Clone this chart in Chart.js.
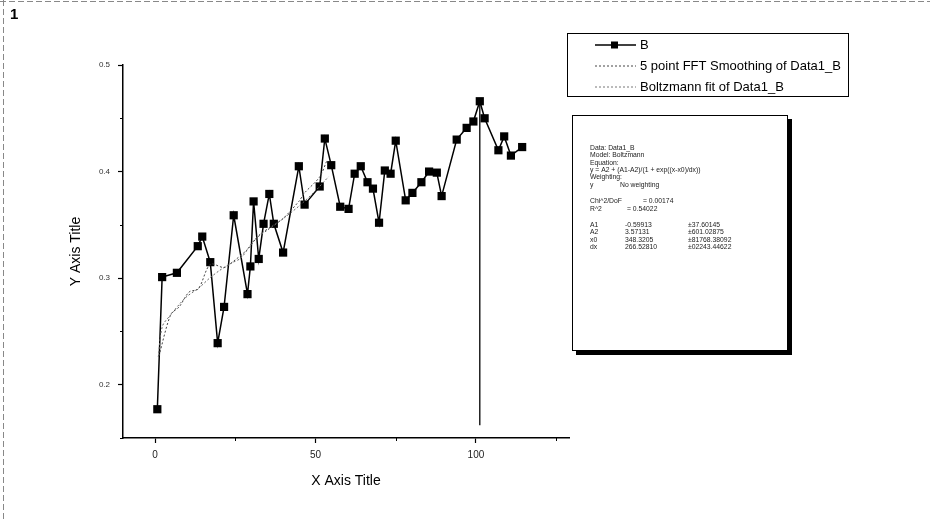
<!DOCTYPE html>
<html>
<head>
<meta charset="utf-8">
<script src="https://cdn.jsdelivr.net/npm/chart.js@4"></script>
<style>
  body { margin: 0; background: #fff; }
  #wrap { position: relative; width: 930px; height: 522px; }
</style>
</head>
<body>
<div id="wrap"><canvas id="plot" width="930" height="522"></canvas></div>
<script>
// data
const bX = [0.7, 2.2, 6.8, 13.3, 14.7, 17.2, 19.5, 21.5, 24.5, 28.8, 29.7, 30.7, 32.3, 33.8, 35.6, 37.0, 39.9, 44.8, 46.6, 51.3,
  52.9, 54.9, 57.7, 60.3, 62.2, 64.1, 66.2, 67.9, 69.8, 71.6, 73.4, 75.0, 78.1, 80.2, 83.0, 85.4, 87.8, 89.3, 94.0, 97.1,
  99.2, 101.2, 102.7, 107.0, 108.8, 110.9, 114.4];
const bY = [0.177, 0.301, 0.305, 0.330, 0.339, 0.315, 0.239, 0.273, 0.359, 0.285, 0.311, 0.372, 0.318, 0.351, 0.379, 0.351, 0.324, 0.405, 0.369, 0.386,
  0.431, 0.406, 0.367, 0.365, 0.398, 0.405, 0.390, 0.384, 0.352, 0.401, 0.398, 0.429, 0.373, 0.380, 0.390, 0.400, 0.399, 0.377, 0.430, 0.441,
  0.447, 0.466, 0.450, 0.420, 0.433, 0.415, 0.423];

const fftX = [1.2, 4.9, 7.5, 10.6, 13.5, 17.2, 21.5, 24.5, 28.8, 32.3, 37.0, 39.9, 44.8, 46.6, 51.3, 53.5];
const fftY = [0.227, 0.266, 0.273, 0.287, 0.290, 0.313, 0.310, 0.316, 0.327, 0.340, 0.350, 0.356, 0.372, 0.380, 0.395, 0.410];

const fitX = [1, 2.3, 5, 8, 10, 13.7, 17, 20, 23.7, 26.8, 31, 35, 40, 45, 50, 54];
const fitY = [0.226, 0.255, 0.266, 0.277, 0.283, 0.291, 0.300, 0.307, 0.314, 0.319, 0.336, 0.345, 0.356, 0.368, 0.382, 0.395];

const dropX = [101.2, 101.2];
const dropY = [0.466, 0.162];

const xTicks = [0, 50, 100];
const xMinor = [25, 75, 125];
const yTicks = [0.2, 0.3, 0.4, 0.5];
const yMinor = [0.15, 0.25, 0.35, 0.45];

const legendLabels = ['B', '5 point FFT Smoothing of Data1_B', 'Boltzmann fit of Data1_B'];
const statLines = [
  ['Data: Data1_B'],
  ['Model: Boltzmann'],
  ['Equation:'],
  ['y = A2 + (A1-A2)/(1 + exp((x-x0)/dx))'],
  ['Weighting:'],
  ['y', 'No weighting'],
  [],
  ['Chi^2/DoF', '= 0.00174'],
  ['R^2', '= 0.54022'],
  [],
  ['A1', '-0.59913', '\u00b137.60145'],
  ['A2', '3.57131', '\u00b1601.02875'],
  ['x0', '348.3205', '\u00b181768.38092'],
  ['dx', '266.52810', '\u00b102243.44622']
];

const FONT = "'Liberation Sans', Arial, sans-serif";
const pts = (xs, ys) => xs.map((x, i) => ({x: x, y: ys[i]}));

const decor = {
  id: 'decor',
  beforeDraw(chart) {
    const ctx = chart.ctx;
    ctx.save();
    ctx.fillStyle = '#fff';
    ctx.fillRect(0, 0, chart.width, chart.height);
    // scanned page edges
    ctx.strokeStyle = '#888';
    ctx.lineWidth = 1;
    ctx.setLineDash([6, 3]);
    ctx.beginPath();
    ctx.moveTo(0, 1.5); ctx.lineTo(930, 1.5);
    ctx.moveTo(3.5, 0); ctx.lineTo(3.5, 522);
    ctx.stroke();
    ctx.setLineDash([]);
    ctx.fillStyle = '#000';
    ctx.font = 'bold 15px ' + FONT;
    ctx.textBaseline = 'top';
    ctx.fillText('1', 10, 7);
    ctx.restore();
  },
  afterDraw(chart) {
    const ctx = chart.ctx;
    const xs = chart.scales.x, ys = chart.scales.y;
    ctx.save();
    ctx.strokeStyle = '#000';
    ctx.lineWidth = 1;
    ctx.beginPath();
    xMinor.forEach(v => {
      const p = Math.round(xs.getPixelForValue(v)) + 0.5;
      ctx.moveTo(p, xs.top); ctx.lineTo(p, xs.top + 3);
    });
    yMinor.forEach(v => {
      const p = Math.round(ys.getPixelForValue(v)) + 0.5;
      ctx.moveTo(ys.right, p); ctx.lineTo(ys.right - 3, p);
    });
    ctx.stroke();

    // legend box
    ctx.lineWidth = 1;
    ctx.strokeRect(567.5, 33.5, 281, 63);
    const rows = [45, 66, 87];
    ctx.beginPath();
    ctx.moveTo(595, rows[0]); ctx.lineTo(636, rows[0]);
    ctx.lineWidth = 1.3;
    ctx.stroke();
    ctx.fillStyle = '#000';
    ctx.fillRect(611, rows[0] - 3.5, 7, 7);
    ctx.lineWidth = 1;
    ctx.setLineDash([2, 2]);
    ctx.strokeStyle = '#444';
    ctx.beginPath();
    ctx.moveTo(595, rows[1]); ctx.lineTo(636, rows[1]);
    ctx.stroke();
    ctx.strokeStyle = '#777';
    ctx.beginPath();
    ctx.moveTo(595, rows[2]); ctx.lineTo(636, rows[2]);
    ctx.stroke();
    ctx.setLineDash([]);
    ctx.font = '13px ' + FONT;
    ctx.textBaseline = 'middle';
    ctx.fillStyle = '#000';
    legendLabels.forEach((t, i) => ctx.fillText(t, 640, rows[i]));

    // statistics box with shadow
    ctx.fillStyle = '#000';
    ctx.fillRect(788, 119, 4, 236);
    ctx.fillRect(576, 351, 216, 4);
    ctx.fillStyle = '#fff';
    ctx.fillRect(572, 115, 216, 236);
    ctx.strokeStyle = '#000';
    ctx.lineWidth = 1;
    ctx.strokeRect(572.5, 115.5, 215, 235);
    ctx.fillStyle = '#222';
    ctx.font = '6.8px ' + FONT;
    const cols = [590, 625, 688];
    let y = 148;
    statLines.forEach(ln => {
      if (ln.length === 0) { y += 9; return; }
      if (ln.length === 1) ctx.fillText(ln[0], cols[0], y);
      else if (ln[0] === 'y') { ctx.fillText(ln[0], cols[0], y); ctx.fillText(ln[1], 620, y); }
      else if (ln[0] === 'Chi^2/DoF') { ctx.fillText(ln[0], cols[0], y); ctx.fillText(ln[1], 643, y); }
      else if (ln[0] === 'R^2') { ctx.fillText(ln[0], cols[0], y); ctx.fillText(ln[1], 627, y); }
      else ln.forEach((t, j) => ctx.fillText(t, cols[j], y));
      y += 7.4;
    });
    ctx.restore();
  }
};

new Chart(document.getElementById('plot'), {
  type: 'scatter',
  data: {
    datasets: [
      {
        label: 'drop',
        data: pts(dropX, dropY),
        showLine: true,
        borderColor: '#000',
        borderWidth: 1.3,
        pointRadius: 0
      },
      {
        label: 'FFT',
        data: pts(fftX, fftY),
        showLine: true,
        borderColor: '#444',
        borderWidth: 1,
        borderDash: [2, 2],
        tension: 0.3,
        pointRadius: 0
      },
      {
        label: 'fit',
        data: pts(fitX, fitY),
        showLine: true,
        borderColor: '#666',
        borderWidth: 1,
        borderDash: [2, 2],
        tension: 0.3,
        pointRadius: 0
      },
      {
        label: 'B',
        data: pts(bX, bY),
        showLine: true,
        borderColor: '#000',
        borderWidth: 1.5,
        pointStyle: 'rect',
        pointRadius: 5.8,
        pointBackgroundColor: '#000',
        pointBorderColor: '#000',
        pointBorderWidth: 0
      }
    ]
  },
  options: {
    responsive: false,
    animation: false,
    layout: { padding: { top: 65, right: 361, left: 0, bottom: 0 } },
    plugins: { legend: { display: false }, tooltip: { enabled: false } },
    scales: {
      x: {
        type: 'linear',
        min: -10,
        max: 129,
        afterFit: s => { s.height = 84; },
        afterBuildTicks: s => { s.ticks = xTicks.map(v => ({ value: v })); },
        grid: { drawOnChartArea: false, drawTicks: true, tickLength: 5, color: '#000', tickWidth: 1.2 },
        border: { display: true, color: '#000', width: 1.5 },
        ticks: { color: '#222', font: { size: 10, family: FONT }, padding: 6, maxRotation: 0, callback: v => String(v) },
        title: { display: true, text: 'X Axis Title', color: '#000', font: { size: 14, family: FONT }, padding: { top: 0, bottom: 32 } }
      },
      y: {
        type: 'linear',
        min: 0.15,
        max: 0.5,
        afterFit: s => { s.width = 123; },
        afterBuildTicks: s => { s.ticks = yTicks.map(v => ({ value: v })); },
        grid: { drawOnChartArea: false, drawTicks: true, tickLength: 5, color: '#000', tickWidth: 1.2 },
        border: { display: true, color: '#000', width: 1.5 },
        ticks: { color: '#333', font: { size: 8, family: FONT }, padding: 8, callback: v => v.toFixed(1) },
        title: { display: true, text: 'Y Axis Title', color: '#000', font: { size: 14, family: FONT }, padding: { top: 68, bottom: 0 } }
      }
    }
  },
  plugins: [decor]
});
</script>
</body>
</html>
